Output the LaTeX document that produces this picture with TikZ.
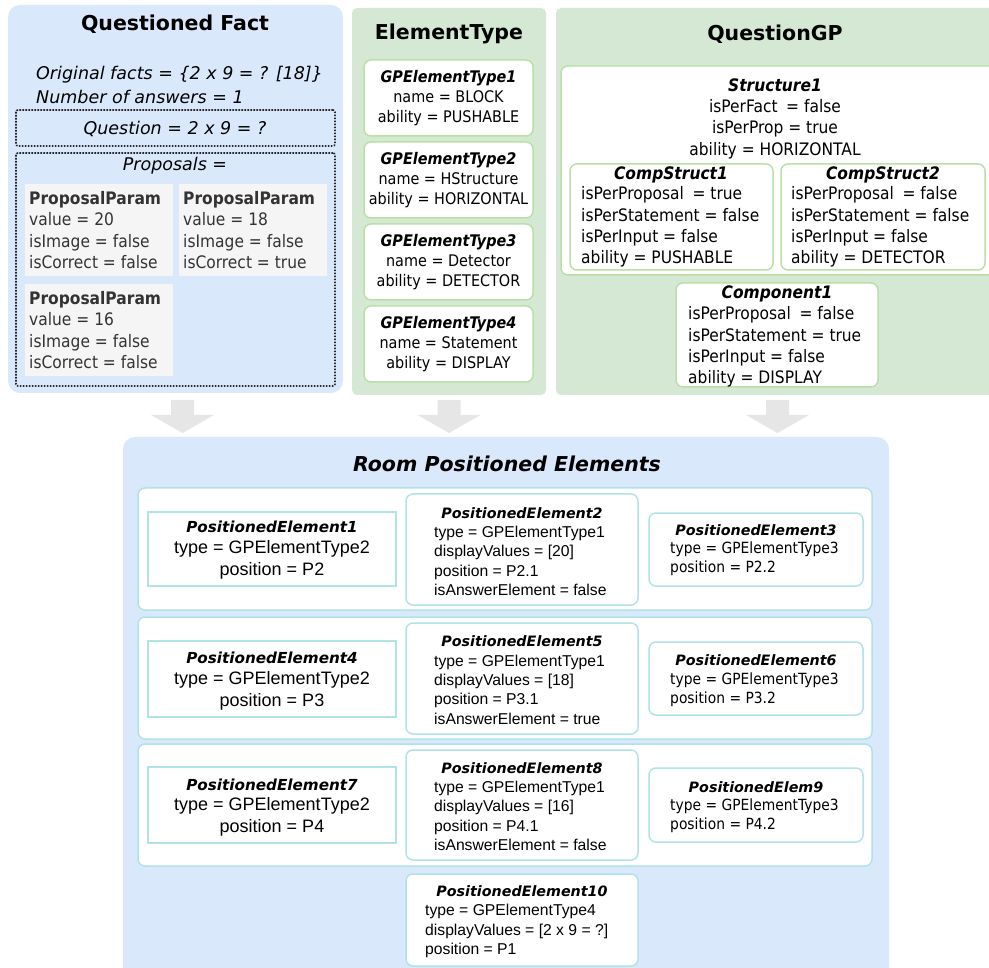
\documentclass[tikz,border=0pt]{standalone}
\usepackage{fontspec}
\setmainfont{DejaVu Sans}
\newfontfamily\tahfont{DejaVu Sans}[FakeStretch=0.9]
\newfontfamily\arifont{Liberation Sans}
\usetikzlibrary{positioning, fit}

\definecolor{qblue}{HTML}{DAE8FC}
\definecolor{qgreen}{HTML}{D5E8D4}
\definecolor{gline}{HTML}{B9E0A5}
\definecolor{tline}{HTML}{B0E3E6}
\definecolor{pgray}{HTML}{F5F5F5}
\definecolor{agray}{HTML}{E6E6E6}
\definecolor{ptext}{HTML}{333333}

\begin{document}
\begin{tikzpicture}[
  x=1pt, y=-1pt,
  every node/.style={inner sep=0pt},
  bluepanel/.style={fill=qblue, rounded corners=12pt},
  greenpanel/.style={fill=qgreen, rounded corners=5pt},
  dotbox/.style={draw=black!85, dash pattern=on 1.6pt off 1.4pt, line width=1.6pt, rounded corners=2pt},
  propbox/.style={fill=pgray},
  gbox/.style={draw=gline, fill=white, line width=1.5pt, rounded corners=7pt},
  rowbox/.style={draw=tline, fill=white, line width=1.5pt, rounded corners=7pt},
  pebox/.style={draw=tline, fill=white, line width=1.5pt},
  perbox/.style={pebox, rounded corners=7pt},
  bigarr/.style={fill=agray},
  head/.style={font={\bfseries\fontsize{20.5}{24}\selectfont}},
  headit/.style={font={\bfseries\itshape\fontsize{20.5}{24}\selectfont}},
  qfit/.style={font={\itshape\fontsize{17.5}{24}\selectfont}},
  tsec/.style={font={\tahfont\fontsize{17.2}{21.3}\selectfont}},
  tsectitle/.style={font={\tahfont\bfseries\itshape\fontsize{17.2}{21.3}\selectfont}},
  tgp/.style={font={\tahfont\fontsize{16}{20}\selectfont}},
  petitle/.style={font={\bfseries\itshape\fontsize{14.3}{17}\selectfont}},
  petitlebig/.style={font={\bfseries\itshape\fontsize{15.2}{18}\selectfont}},
  pebody/.style={font={\arifont\fontsize{15.7}{19.3}\selectfont}},
  pebig/.style={font={\arifont\fontsize{18}{22}\selectfont}},
  petah/.style={font={\tahfont\fontsize{15.4}{19}\selectfont}}
]
  \useasboundingbox (0,0) rectangle (989,968);

  % Questioned Fact
  \node[bluepanel, fit={(8,5) (343,393)}] (qf) {};
  \node[head] (qftitle) at (175,24) {Questioned Fact};
  \node[qfit, anchor=west, align=left] (facts) at (36,85)
    {Original facts = \{2 x 9 = ? [18]\}\\Number of answers = 1};
  \node[dotbox, fit={(16,110) (335,146)}] (qbox) {};
  \node[qfit] (qtext) at (175,129) {Question = 2 x 9 = ?};
  \node[dotbox, fit={(16,153) (335,386)}] (pbox) {};
  \node[qfit] (ptext) at (175,166) {Proposals =};
  \node[propbox, fit={(25,184) (173,276)}] (prop1) {};
  \node[propbox, fit={(179,184) (327,276)}] (prop2) {};
  \node[propbox, fit={(25,284) (173,376)}] (prop3) {};
  \node[tsec, text=ptext, anchor=west, align=left] (prop1txt) at (29,230)
    {\textbf{ProposalParam}\\value = 20\\isImage = false\\isCorrect = false};
  \node[tsec, text=ptext, anchor=west, align=left] (prop2txt) at (183,230)
    {\textbf{ProposalParam}\\value = 18\\isImage = false\\isCorrect = true};
  \node[tsec, text=ptext, anchor=west, align=left] (prop3txt) at (29,330)
    {\textbf{ProposalParam}\\value = 16\\isImage = false\\isCorrect = false};

  % ElementType
  \node[greenpanel, fit={(352,8) (546,395)}] (et) {};
  \node[head] (ettitle) at (449,34) {ElementType};
  \node[gbox, fit={(364,60) (533,136)}] (ge1) {};
  \node[gbox, fit={(364,142) (533,218)}] (ge2) {};
  \node[gbox, fit={(364,224) (533,300)}] (ge3) {};
  \node[gbox, fit={(364,306) (533,382)}] (ge4) {};
  \node[tgp, align=center] (ge1txt) at (ge1)
    {\textbf{\textit{GPElementType1}}\\name = BLOCK\\ability = PUSHABLE};
  \node[tgp, align=center] (ge2txt) at (ge2)
    {\textbf{\textit{GPElementType2}}\\name = HStructure\\ability = HORIZONTAL};
  \node[tgp, align=center] (ge3txt) at (ge3)
    {\textbf{\textit{GPElementType3}}\\name = Detector\\ability = DETECTOR};
  \node[tgp, align=center] (ge4txt) at (ge4)
    {\textbf{\textit{GPElementType4}}\\name = Statement\\ability = DISPLAY};

  % QuestionGP
  \node[greenpanel, fit={(556,8) (1000,395)}] (qgp) {};
  \node[head] (qgptitle) at (775,34) {QuestionGP};
  \node[gbox, fit={(561,66) (1000,275)}] (st1) {};
  \node[tsec, align=center] (st1txt) at (775,118.5)
    {\textbf{\textit{Structure1}}\\isPerFact\enspace = false\\isPerProp = true\\ability = HORIZONTAL};
  \node[gbox, fit={(570,164) (773,270)}] (cs1) {};
  \node[tsectitle] (cs1title) at (671,175) {CompStruct1};
  \node[tsec, anchor=west, align=left] (cs1txt) at (581,227)
    {isPerProposal\enspace = true\\isPerStatement = false\\isPerInput = false\\ability = PUSHABLE};
  \node[gbox, fit={(781,164) (985,270)}] (cs2) {};
  \node[tsectitle] (cs2title) at (883,175) {CompStruct2};
  \node[tsec, anchor=west, align=left] (cs2txt) at (791,227)
    {isPerProposal\enspace = false\\isPerStatement = false\\isPerInput = false\\ability = DETECTOR};
  \node[gbox, fit={(676,283) (878,387)}] (comp1) {};
  \node[tsectitle] (comp1title) at (777,294) {Component1};
  \node[tsec, anchor=west, align=left] (comp1txt) at (688,347)
    {isPerProposal\enspace = false\\isPerStatement = true\\isPerInput = false\\ability = DISPLAY};

  % arrows down
  \coordinate (arr1) at (182.5,400);
  \coordinate (arr2) at (449,400);
  \coordinate (arr3) at (777.5,400);
  \fill[bigarr] (arr1) ++(-11.5,0) -- ++(23,0) -- ++(0,15) -- ++(20,0) -- ++(-31.5,18)
    -- ++(-31.5,-18) -- ++(20,0) -- cycle;
  \fill[bigarr] (arr2) ++(-11.5,0) -- ++(23,0) -- ++(0,15) -- ++(20,0) -- ++(-31.5,18)
    -- ++(-31.5,-18) -- ++(20,0) -- cycle;
  \fill[bigarr] (arr3) ++(-11.5,0) -- ++(23,0) -- ++(0,15) -- ++(20,0) -- ++(-31.5,18)
    -- ++(-31.5,-18) -- ++(20,0) -- cycle;

  % Room Positioned Elements
  \node[bluepanel, fit={(123,437) (889,990)}] (room) {};
  \node[headit] (roomtitle) at (507,464) {Room Positioned Elements};
  \node[rowbox, fit={(138,488) (872,610)}] (row1) {};
  \node[rowbox, fit={(138,617) (872,739)}] (row2) {};
  \node[rowbox, fit={(138,744) (872,866)}] (row3) {};

  \node[pebox, fit={(148,512) (396,586)}] (pe1) {};
  \node[petitlebig] (pe1title) at (272,527) {PositionedElement1};
  \node[pebig, align=center] (pe1txt) at (272,560) {type = GPElementType2\\position = P2};
  \node[perbox, fit={(406,494) (638,605)}] (pe2) {};
  \node[petitle] (pe2title) at (522,513) {PositionedElement2};
  \node[pebody, anchor=west, align=left] (pe2txt) at (434,561)
    {type = GPElementType1\\displayValues = [20]\\position = P2.1\\isAnswerElement = false};
  \node[perbox, fit={(649,513) (863,586)}] (pe3) {};
  \node[petitle] (pe3title) at (756,530) {PositionedElement3};
  \node[petah, anchor=west, align=left] (pe3txt) at (670,558.5) {type = GPElementType3\\position = P2.2};

  \node[pebox, fit={(148,641) (396,717)}] (pe4) {};
  \node[petitlebig] (pe4title) at (272,658) {PositionedElement4};
  \node[pebig, align=center] (pe4txt) at (272,690.5) {type = GPElementType2\\position = P3};
  \node[perbox, fit={(406,623) (638,734)}] (pe5) {};
  \node[petitle] (pe5title) at (522,641) {PositionedElement5};
  \node[pebody, anchor=west, align=left] (pe5txt) at (434,689.5)
    {type = GPElementType1\\displayValues = [18]\\position = P3.1\\isAnswerElement = true};
  \node[perbox, fit={(649,642) (863,715)}] (pe6) {};
  \node[petitle] (pe6title) at (756,660) {PositionedElement6};
  \node[petah, anchor=west, align=left] (pe6txt) at (670,689.5) {type = GPElementType3\\position = P3.2};

  \node[pebox, fit={(148,767) (396,843)}] (pe7) {};
  \node[petitlebig] (pe7title) at (272,785) {PositionedElement7};
  \node[pebig, align=center] (pe7txt) at (272,816.5) {type = GPElementType2\\position = P4};
  \node[perbox, fit={(406,750) (638,860)}] (pe8) {};
  \node[petitle] (pe8title) at (522,768) {PositionedElement8};
  \node[pebody, anchor=west, align=left] (pe8txt) at (434,816)
    {type = GPElementType1\\displayValues = [16]\\position = P4.1\\isAnswerElement = false};
  \node[perbox, fit={(649,768) (863,842)}] (pe9) {};
  \node[petitle] (pe9title) at (756,787) {PositionedElem9};
  \node[petah, anchor=west, align=left] (pe9txt) at (670,816) {type = GPElementType3\\position = P4.2};

  \node[perbox, fit={(406,874) (638,966)}] (pe10) {};
  \node[petitle] (pe10title) at (522,891) {PositionedElement10};
  \node[pebody, anchor=west, align=left] (pe10txt) at (425,931)
    {type = GPElementType4\\displayValues = [2 x 9 = ?]\\position = P1};
\end{tikzpicture}
\end{document}
